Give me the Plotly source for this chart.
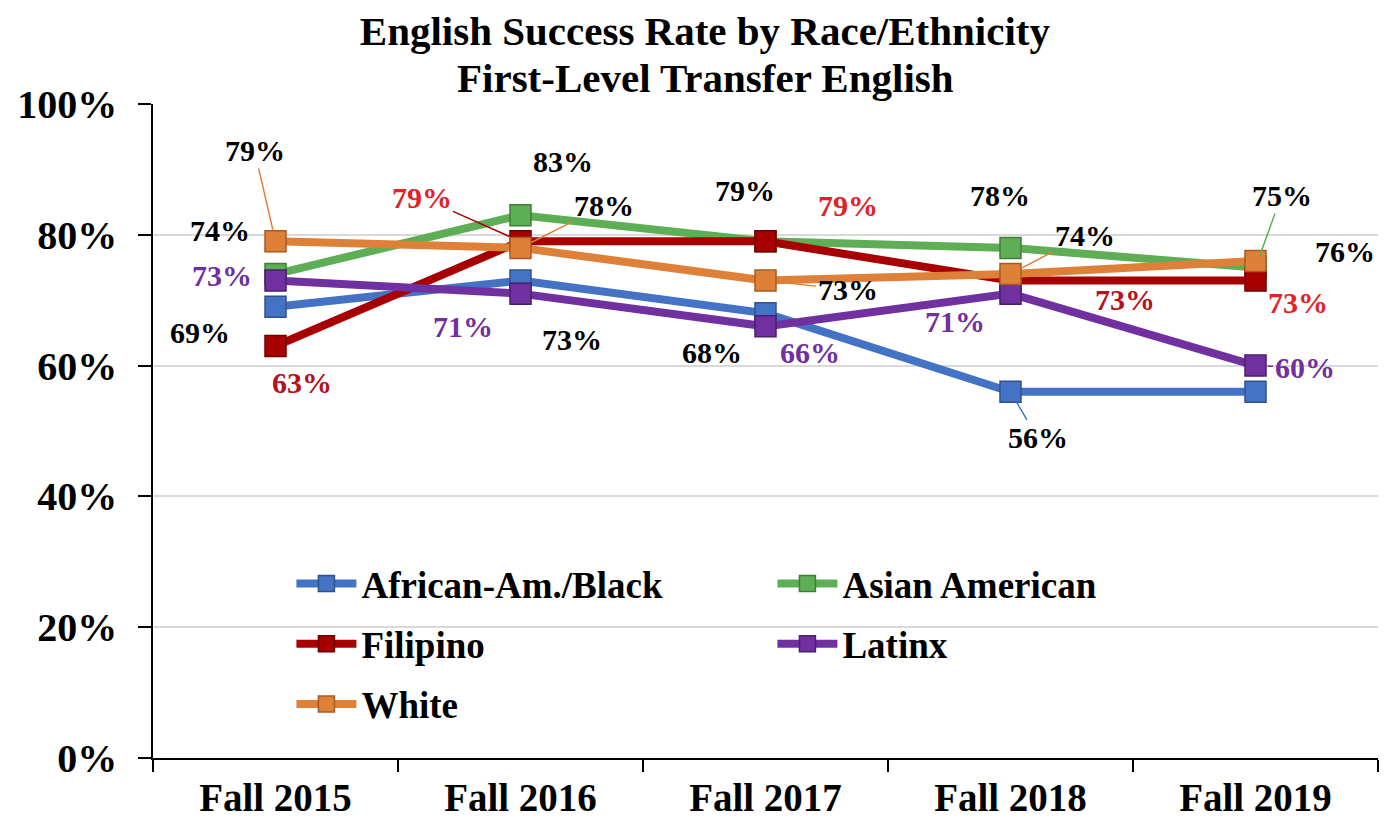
import plotly.graph_objects as go

# ---------------- data ----------------
categories = ["Fall 2015", "Fall 2016", "Fall 2017", "Fall 2018", "Fall 2019"]
series_names = ["African-Am./Black", "Asian American", "Filipino", "Latinx", "White"]
black_vals = [69, 73, 68, 56, 56]
asian_vals = [74, 83, 79, 78, 75]
filipino_vals = [63, 79, 79, 73, 73]
latinx_vals = [73, 71, 66, 71, 60]
white_vals = [79, 78, 73, 74, 76]
y_tick_vals = [0, 20, 40, 60, 80, 100]
title_lines = ["English Success Rate by Race/Ethnicity", "First-Level Transfer English"]

values = {
    "African-Am./Black": black_vals,
    "Asian American": asian_vals,
    "Filipino": filipino_vals,
    "Latinx": latinx_vals,
    "White": white_vals,
}

# ---------------- styles ----------------
FONT = "Liberation Serif, Times New Roman, serif"
line_colors = {
    "African-Am./Black": "#4472C4",
    "Asian American": "#5EAE56",
    "Filipino": "#A80000",
    "Latinx": "#7030A0",
    "White": "#DE8038",
}
edge_colors = {
    "African-Am./Black": "#2F528F",
    "Asian American": "#3F7F3A",
    "Filipino": "#6E0000",
    "Latinx": "#4A1F6B",
    "White": "#A85A22",
}
legend_of = {
    "African-Am./Black": "legend",
    "Asian American": "legend",
    "Filipino": "legend2",
    "Latinx": "legend2",
    "White": "legend3",
}
first_column = ("African-Am./Black", "Filipino", "White")
RED = "#E32228"
DARKRED = "#B5121B"
PURPLE = "#7030A0"
BLACK = "#000000"
TITLE_FONT = dict(family=FONT, size=41, color="black", weight="bold")

# label placement: (series, index, dx px, dy px, text colour, leader line)
label_layout = [
    ("White", 0, -21, -91, BLACK, True),
    ("Asian American", 0, -56, -44, BLACK, False),
    ("Latinx", 0, -54, -5, PURPLE, False),
    ("African-Am./Black", 0, -76, 26, BLACK, False),
    ("Filipino", 0, 26, 37, DARKRED, False),
    ("Asian American", 1, 42, -54, BLACK, False),
    ("White", 1, 83, -42, BLACK, True),
    ("Filipino", 1, -99, -44, RED, True),
    ("Latinx", 1, -58, 33, PURPLE, False),
    ("African-Am./Black", 1, 51, 59, BLACK, False),
    ("Asian American", 2, -21, -51, BLACK, False),
    ("Filipino", 2, 82, -36, RED, False),
    ("White", 2, 82, 9, BLACK, True),
    ("African-Am./Black", 2, -54, 39, BLACK, False),
    ("Latinx", 2, 44, 26, PURPLE, False),
    ("Asian American", 3, -11, -52, BLACK, False),
    ("White", 3, 74, -39, BLACK, True),
    ("Latinx", 3, -56, 28, PURPLE, False),
    ("Filipino", 3, 114, 19, DARKRED, False),
    ("African-Am./Black", 3, 27, 46, BLACK, True),
    ("Asian American", 4, 26, -72, BLACK, True),
    ("White", 4, 89, -9, BLACK, False),
    ("Filipino", 4, 42, 22, RED, False),
    ("Latinx", 4, 49, 2, PURPLE, True),
]

fig = go.Figure()
for name in series_names:
    fig.add_trace(go.Scatter(
        x=categories,
        y=[v / 100 for v in values[name]],
        name=name,
        mode="lines+markers",
        line=dict(color=line_colors[name], width=8),
        marker=dict(symbol="square", size=21, color=line_colors[name],
                    line=dict(color=edge_colors[name], width=1.5)),
        legend=legend_of[name],
        legendwidth=406 if name in first_column else 340,
        hoverinfo="skip",
    ))

annotations = []
for name, i, dx, dy, col, leader in label_layout:
    v = values[name][i]
    base = dict(
        x=categories[i], y=v / 100, xref="x", yref="y",
        text=f"{v}%",
        font=dict(family=FONT, size=30, color=col, weight="bold"),
    )
    if leader:
        base.update(showarrow=True, ax=dx, ay=dy, arrowhead=0, arrowwidth=1.5,
                    arrowcolor=line_colors[name], standoff=12)
    else:
        base.update(showarrow=False, xshift=dx, yshift=-dy,
                    xanchor="center", yanchor="middle")
    annotations.append(base)

# second title line
annotations.append(dict(
    text=title_lines[1], xref="paper", yref="paper",
    x=0.4514, y=1.0398, xanchor="center", yanchor="middle",
    showarrow=False, font=TITLE_FONT,
))

legend_common = dict(
    orientation="h",
    xanchor="left",
    yanchor="middle",
    x=0.113,
    bgcolor="rgba(0,0,0,0)",
    borderwidth=0,
    font=dict(family=FONT, size=37, color="black", weight="bold"),
    entrywidthmode="pixels",
    itemwidth=60,
    itemclick=False,
    itemdoubleclick=False,
)

fig.update_layout(
    width=1380,
    height=813,
    margin=dict(l=145, r=10, t=96, b=63),
    paper_bgcolor="white",
    plot_bgcolor="white",
    title=dict(
        text=title_lines[0],
        x=0.505, xref="container", xanchor="center",
        y=0.9717, yref="container", yanchor="middle",
        font=TITLE_FONT,
    ),
    xaxis=dict(
        type="category",
        range=[-0.5, 4.5],
        tickson="boundaries",
        ticks="outside",
        ticklen=12,
        tickwidth=1.5,
        tickcolor="black",
        showline=True,
        linecolor="black",
        linewidth=1.5,
        showgrid=False,
        tickfont=dict(family=FONT, size=39, color="black", weight="bold"),
        ticklabelstandoff=4,
        automargin=False,
        fixedrange=True,
    ),
    yaxis=dict(
        range=[0, 1],
        tickvals=[t / 100 for t in y_tick_vals],
        ticktext=[f"{t}%" for t in y_tick_vals],
        ticks="outside",
        ticklen=13,
        tickwidth=1.5,
        tickcolor="black",
        showline=True,
        linecolor="black",
        linewidth=1.5,
        showgrid=True,
        gridcolor="#D9D9D9",
        gridwidth=1.5,
        zeroline=False,
        tickfont=dict(family=FONT, size=40, color="black", weight="bold"),
        ticklabelstandoff=13,
        automargin=False,
        fixedrange=True,
    ),
    legend=dict(legend_common, y=0.266),
    legend2=dict(legend_common, y=0.174),
    legend3=dict(legend_common, y=0.082),
    shapes=[dict(
        type="rect", xref="paper", yref="paper",
        x0=0.071, x1=0.849, y0=0.04, y1=0.30,
        fillcolor="white", line=dict(width=0), layer="below",
    )],
    annotations=annotations,
    showlegend=True,
)

fig.write_html("out.html")
